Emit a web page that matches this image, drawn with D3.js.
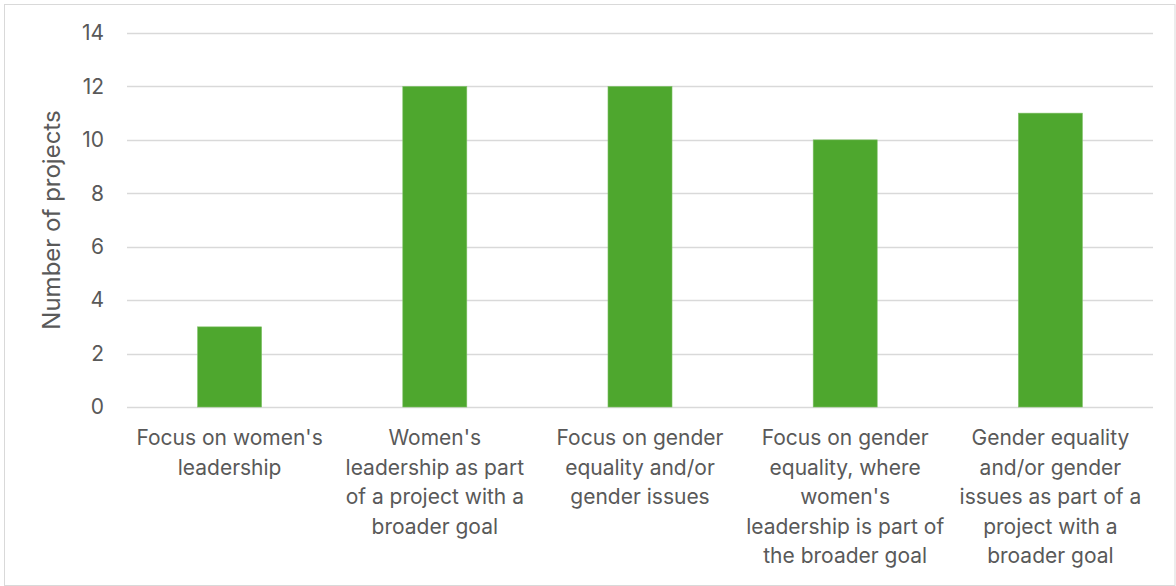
<!DOCTYPE html>
<html>
<head>
<meta charset="utf-8">
<script src="https://cdn.jsdelivr.net/npm/d3@7"></script>
<style>
  html, body { margin: 0; padding: 0; background: #fff; }
  svg { display: block; }
  text { font-family: Inter, "Open Sans", sans-serif; fill: #595959; }
</style>
</head>
<body>
<svg id="chart" width="1176" height="586"></svg>
<script>
// Project counts by focus category (line breaks as shown under each bar)
const categories = [
  "Focus on women's\nleadership",
  "Women's\nleadership as part\nof a project with a\nbroader goal",
  "Focus on gender\nequality and/or\ngender issues",
  "Focus on gender\nequality, where\nwomen's\nleadership is part of\nthe broader goal",
  "Gender equality\nand/or gender\nissues as part of a\nproject with a\nbroader goal"
];
const projectCounts = [3, 12, 12, 10, 11];
const yTicks = [0, 2, 4, 6, 8, 10, 12, 14];
const yTitle = "Number of projects";

const svg = d3.select("#chart");
const W = 1176, H = 586;
const plot = { left: 127, right: 1153, top: 33, bottom: 407 };

// outer frame
svg.append("rect")
  .attr("x", 4.5).attr("y", 4.5)
  .attr("width", W - 5.5).attr("height", H - 5)
  .attr("fill", "#fff").attr("stroke", "#d9d9d9").attr("stroke-width", 1);

const x = d3.scaleBand()
  .domain(categories)
  .range([plot.left, plot.right])
  .paddingInner(0.688).paddingOuter(0.344);

const y = d3.scaleLinear().domain([0, 14]).range([plot.bottom, plot.top]);

// gridlines
svg.append("g")
  .selectAll("line")
  .data(yTicks)
  .join("line")
  .attr("x1", plot.left).attr("x2", plot.right)
  .attr("y1", d => Math.round(y(d)) + 0.5).attr("y2", d => Math.round(y(d)) + 0.5)
  .attr("stroke", "#d9d9d9").attr("stroke-width", 1.5);

// y axis labels
const yAxis = d3.axisLeft(y).tickValues(yTicks).tickSize(0).tickPadding(0);
const yg = svg.append("g").attr("transform", `translate(104,0)`).call(yAxis);
yg.select(".domain").remove();
yg.selectAll("text")
  .attr("font-size", 21)
  .attr("fill", "#595959")
  .style("font-family", "Inter, 'Open Sans', sans-serif");

// bars
svg.append("g")
  .selectAll("rect")
  .data(projectCounts)
  .join("rect")
  .attr("x", (d, i) => x(categories[i]))
  .attr("y", d => y(d))
  .attr("width", x.bandwidth())
  .attr("height", d => y(0) - y(d))
  .attr("fill", "#4ea72e")
  .attr("stroke", "#7fc067")
  .attr("stroke-width", 0.6);

// category labels
const lineH = 29.5;
const lg = svg.append("g");
categories.forEach(c => {
  const t = lg.append("text")
    .attr("x", x(c) + x.bandwidth() / 2)
    .attr("y", 445)
    .attr("text-anchor", "middle")
    .attr("font-size", 21);
  c.split("\n").forEach((line, j) => {
    t.append("tspan")
      .attr("x", x(c) + x.bandwidth() / 2)
      .attr("dy", j === 0 ? 0 : lineH)
      .text(line);
  });
});

// y axis title
svg.append("text")
  .attr("transform", `translate(60,220) rotate(-90)`)
  .attr("text-anchor", "middle")
  .attr("font-size", 24)
  .text(yTitle);
</script>
</body>
</html>
